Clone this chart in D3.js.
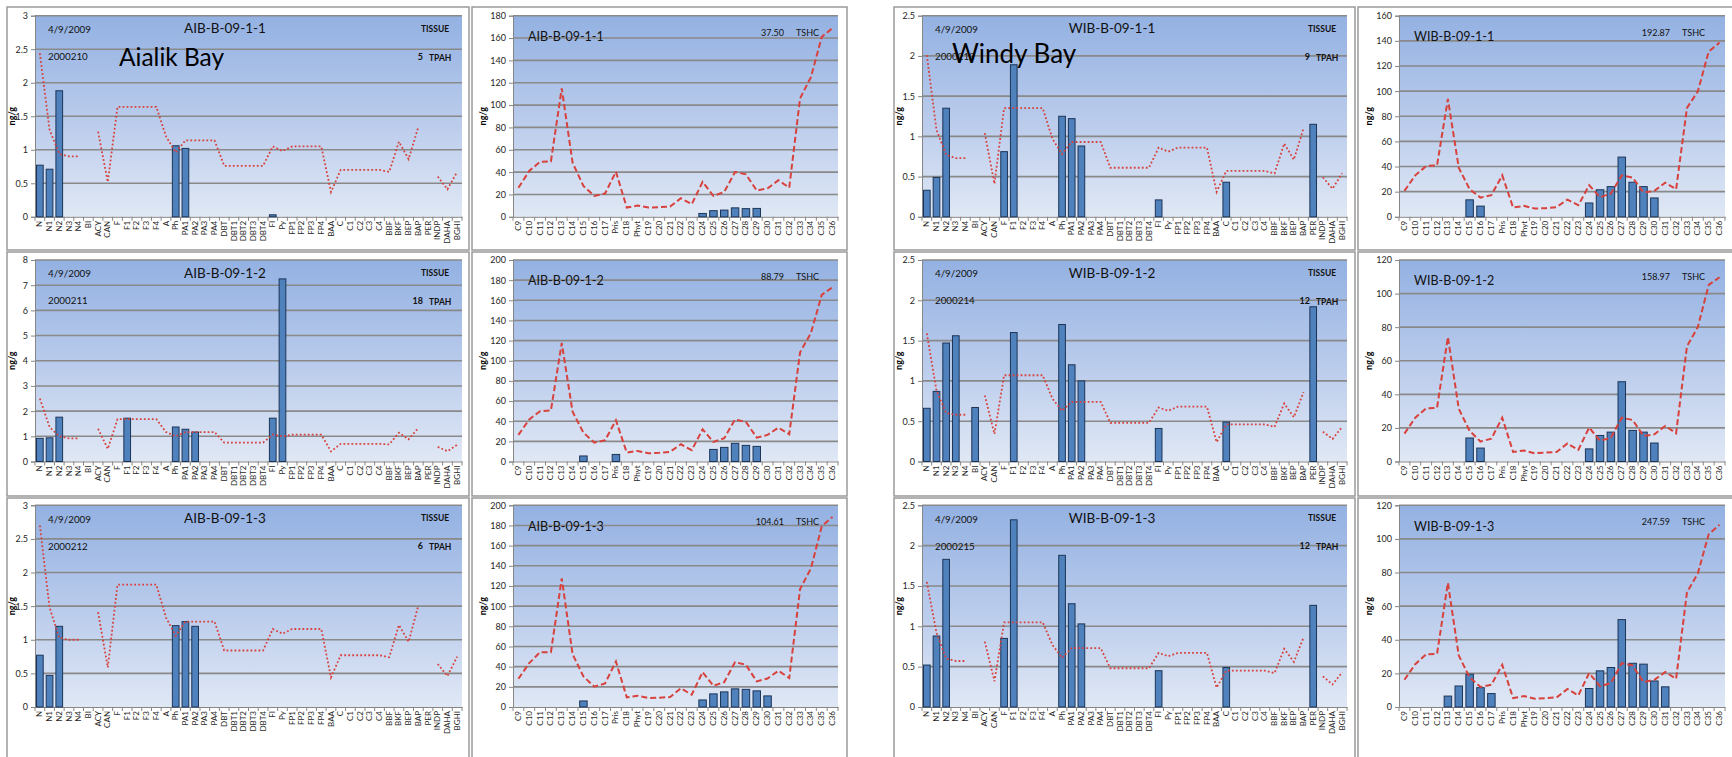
<!DOCTYPE html>
<html>
<head>
<meta charset="UTF-8">
<title>Tissue PAH / SHC profiles</title>
<script src="https://d3js.org/d3.v7.min.js"></script>
<style>
  body { margin: 0; background: #fff; font-family: Lato, 'Open Sans', sans-serif; }
  svg { display: block; }
  .axis path, .axis line { stroke: #868686; }
  .axis text { fill: #262626; font-family: Lato, sans-serif; }
</style>
</head>
<body>
<svg width="1732" height="757"></svg>
<script>
// ---- categories ----
const pahCats = ["N","N1","N2","N3","N4","BI","ACY","CAN","F","F1","F2","F3","F4","A","Ph","PA1","PA2","PA3","PA4",
  "DBT","DBT1","DBT2","DBT3","DBT4","FI","Py","FP1","FP2","FP3","FP4","BAA","C","C1","C2","C3","C4",
  "BBF","BKF","BEP","BAP","PER","INDP","DAHA","BGHI"];
const shcCats = ["C9","C10","C11","C12","C13","C14","C15","C16","C17","Pris","C18","Phyt","C19","C20","C21",
  "C22","C23","C24","C25","C26","C27","C28","C29","C30","C31","C32","C33","C34","C35","C36"];

// ---- samples (row order: AIB-1, WIB-1, AIB-2, WIB-2, AIB-3, WIB-3) ----
const sampleIds = ["AIB-B-09-1-1","WIB-B-09-1-1","AIB-B-09-1-2","WIB-B-09-1-2","AIB-B-09-1-3","WIB-B-09-1-3"];
const labNums = ["2000210","2000213","2000211","2000214","2000212","2000215"];
const tpah = ["5","9","18","12","6","12"];
const tshc = ["37.50","192.87","88.79","158.97","104.61","247.59"];
const pahMax = [3, 2.5, 8, 2.5, 3, 2.5];
const pahStep = [0.5, 0.5, 1, 0.5, 0.5, 0.5];
const shcMax = [180, 160, 200, 120, 200, 120];

// ---- PAH bars (ng/g) ----
const aib1PahBars = [0.77,0.71,1.88,0,0, 0,0,0,0,0, 0,0,0,0,1.06, 1.02,0,0,0,0, 0,0,0,0,0.03, 0,0,0,0,0, 0,0,0,0,0, 0,0,0,0,0, 0,0,0,0];
const wib1PahBars = [0.33,0.49,1.35,0,0, 0,0,0,0.81,1.89, 0,0,0,0,1.25, 1.22,0.88,0,0,0, 0,0,0,0,0.21, 0,0,0,0,0, 0,0.43,0,0,0, 0,0,0,0,0, 1.15,0,0,0];
const aib2PahBars = [0.92,0.94,1.76,0,0, 0,0,0,0,1.72, 0,0,0,0,1.37, 1.28,1.17,0,0,0, 0,0,0,0,1.72, 7.25,0,0,0,0, 0,0,0,0,0, 0,0,0,0,0, 0,0,0,0];
const wib2PahBars = [0.66,0.87,1.47,1.56,0, 0.67,0,0,0,1.6, 0,0,0,0,1.7, 1.2,1.0,0,0,0, 0,0,0,0,0.41, 0,0,0,0,0, 0,0.49,0,0,0, 0,0,0,0,0, 1.92,0,0,0];
const aib3PahBars = [0.77,0.47,1.2,0,0, 0,0,0,0,0, 0,0,0,0,1.21, 1.27,1.2,0,0,0, 0,0,0,0,0, 0,0,0,0,0, 0,0,0,0,0, 0,0,0,0,0, 0,0,0,0];
const wib3PahBars = [0.52,0.88,1.83,0,0, 0,0,0,0.85,2.32, 0,0,0,0,1.88, 1.28,1.03,0,0,0, 0,0,0,0,0.45, 0,0,0,0,0, 0,0.49,0,0,0, 0,0,0,0,0, 1.26,0,0,0];

// ---- PAH reference lines ----
const aib1PahRef = [2.44,1.3,0.94,0.9,0.9, null,1.27,0.52,1.64,1.64, 1.64,1.64,1.64,1.2,0.96, 1.14,1.14,1.14,1.14,0.76, 0.76,0.76,0.76,0.76,1.05, 0.98,1.05,1.05,1.05,1.05, 0.37,0.7,0.7,0.7,0.7, 0.7,0.67,1.12,0.86,1.34, null,0.6,0.41,0.67];
const wib1PahRef = [2.01,1.08,0.77,0.73,0.73, null,1.04,0.41,1.35,1.35, 1.35,1.35,1.35,0.97,0.78, 0.93,0.93,0.93,0.93,0.61, 0.61,0.61,0.61,0.61,0.86, 0.81,0.86,0.86,0.86,0.86, 0.31,0.57,0.57,0.57,0.57, 0.57,0.54,0.91,0.71,1.1, null,0.49,0.35,0.54];
const aib2PahRef = [2.5,1.37,1.0,0.92,0.92, null,1.3,0.5,1.68,1.68, 1.68,1.68,1.68,1.17,1.0, 1.17,1.17,1.17,1.17,0.75, 0.75,0.75,0.75,0.75,1.07, 1.0,1.07,1.07,1.07,1.07, 0.4,0.7,0.7,0.7,0.7, 0.7,0.68,1.14,0.88,1.33, null,0.58,0.41,0.66];
const wib2PahRef = [1.59,0.88,0.6,0.58,0.58, null,0.82,0.34,1.07,1.07, 1.07,1.07,1.07,0.78,0.63, 0.74,0.74,0.74,0.74,0.48, 0.48,0.48,0.48,0.48,0.67, 0.63,0.68,0.68,0.68,0.68, 0.24,0.46,0.46,0.46,0.46, 0.46,0.43,0.72,0.55,0.86, null,0.37,0.28,0.43];
const aib3PahRef = [2.7,1.48,1.03,1.0,1.0, null,1.41,0.59,1.82,1.82, 1.82,1.82,1.82,1.33,1.06, 1.27,1.27,1.27,1.27,0.84, 0.84,0.84,0.84,0.84,1.16, 1.09,1.16,1.16,1.16,1.16, 0.44,0.77,0.77,0.77,0.77, 0.77,0.74,1.22,0.97,1.51, null,0.64,0.46,0.75];
const wib3PahRef = [1.55,0.92,0.6,0.57,0.57, null,0.81,0.32,1.05,1.05, 1.05,1.05,1.05,0.77,0.61, 0.73,0.73,0.73,0.73,0.48, 0.48,0.48,0.48,0.48,0.67, 0.63,0.67,0.67,0.67,0.67, 0.24,0.45,0.45,0.45,0.45, 0.45,0.42,0.72,0.56,0.86, null,0.38,0.28,0.43];

// ---- SHC bars (ng/g) ----
const aib1ShcBars = [0,0,0,0,0, 0,0,0,0,0, 0,0,0,0,0, 0,0,3,5.5,6, 8,7.3,7.5,0,0, 0,0,0,0,0];
const wib1ShcBars = [0,0,0,0,0, 0,13.5,8.5,0,0, 0,0,0,0,0, 0,0,11,21.5,24, 47.5,27.5,24,15,0, 0,0,0,0,0];
const aib2ShcBars = [0,0,0,0,0, 0,5.5,0,0,7, 0,0,0,0,0, 0,0,0,12,14, 18,16,15,0,0, 0,0,0,0,0];
const wib2ShcBars = [0,0,0,0,0, 0,14,8,0,0, 0,0,0,0,0, 0,0,7.5,15.5,17.5, 47.5,18.5,17.5,11,0, 0,0,0,0,0];
const aib3ShcBars = [0,0,0,0,0, 0,6,0,0,0, 0,0,0,0,0, 0,0,7,13,15, 18,17.5,16,11,0, 0,0,0,0,0];
const wib3ShcBars = [0,0,0,0,6.5, 12.5,19.5,11.5,8,0, 0,0,0,0,0, 0,0,11,21.5,23.5, 52,26,25.5,15.5,12, 0,0,0,0,0];

// ---- SHC reference lines ----
const aib1ShcRef = [26,41,49.3,49.6,115,48.4,27.6,18.7,20.8,40.4,8.3,10,8.3,8.6,9.2,16.6,11.3,31.2,18.7,22.3,40.1,38,23.5,25.5,32.7,26.1,106,125,161,169];
const wib1ShcRef = [20.6,33,40.4,40.9,93.7,39,21.9,15.3,17.2,33,7.4,8.7,6.6,6.9,7.7,13.7,9.2,25.1,15.6,18.5,33,31.2,19.3,20.6,27.2,21.9,86.6,99.8,131.5,138.6];
const aib2ShcRef = [26.4,41.8,50,50.7,117.6,49.4,28.7,18.8,21.1,40.9,8.9,10.5,8.2,8.6,9.6,17.1,11.2,32,19.4,23.1,41.8,39.2,23.7,26.4,33.6,27,108.4,127.5,165.4,173];
const wib2ShcRef = [16.6,26.1,31.7,32,74.1,31.4,18.2,11.9,13.6,26.1,5.7,6.5,4.9,5.3,5.7,10.7,6.9,20.2,12.3,14.2,26.1,24.7,15.2,16.2,21.2,16.8,68.6,80.1,105.2,109.7];
const aib3ShcRef = [28,43.5,54.4,54.4,127.5,52.4,30.3,20.1,23.4,45.1,9.6,11.2,8.9,9.2,9.9,18.5,12.2,34.6,21.1,24.7,44.5,41.8,25.4,28.3,35.9,28.7,117,137.4,179.2,188.5];
const wib3ShcRef = [16.2,25.5,31.4,31.6,73.9,30.6,17.6,11.9,13.2,25.1,5.3,6.5,4.9,5.3,5.7,10.7,6.9,20.2,12.3,14.2,26.1,24.7,14.8,16.2,20.8,16.8,68.2,79.5,102.8,108.5];

const pahBars = [aib1PahBars, wib1PahBars, aib2PahBars, wib2PahBars, aib3PahBars, wib3PahBars];
const pahRefs = [aib1PahRef, wib1PahRef, aib2PahRef, wib2PahRef, aib3PahRef, wib3PahRef];
const shcBars = [aib1ShcBars, wib1ShcBars, aib2ShcBars, wib2ShcBars, aib3ShcBars, wib3ShcBars];
const shcRefs = [aib1ShcRef, wib1ShcRef, aib2ShcRef, wib2ShcRef, aib3ShcRef, wib3ShcRef];

// ---- layout ----
const cols = [
  { box: [7, 469],     plot: [35, 462] },
  { box: [472, 847],   plot: [513, 838] },
  { box: [894, 1355],  plot: [922, 1347] },
  { box: [1358, 1745], plot: [1399, 1725] }
];
const rows = [
  { box: [7, 250],   plot: [15.7, 216.8] },
  { box: [252, 496], plot: [260, 461.5] },
  { box: [498, 775], plot: [505.3, 707] }
];

const svg = d3.select("svg");
const defs = svg.append("defs");
const grad = defs.append("linearGradient").attr("id", "plotbg")
  .attr("x1", 0).attr("y1", 0).attr("x2", 0).attr("y2", 1);
grad.append("stop").attr("offset", "0%").attr("stop-color", "#93b1e2");
grad.append("stop").attr("offset", "55%").attr("stop-color", "#bccdec");
grad.append("stop").attr("offset", "100%").attr("stop-color", "#e0e8f5");

function drawPanel(opt) {
  const c = cols[opt.col], r = rows[opt.row];
  const L = c.plot[0], R = c.plot[1], T = r.plot[0], B = r.plot[1];
  const g = svg.append("g");

  g.append("rect")
    .attr("x", c.box[0]).attr("y", r.box[0])
    .attr("width", c.box[1] - c.box[0]).attr("height", r.box[1] - r.box[0])
    .attr("fill", "#fff").attr("stroke", "#9a9a9a").attr("stroke-width", 1.5);

  g.append("rect").attr("x", L).attr("y", T).attr("width", R - L).attr("height", B - T)
    .attr("fill", "url(#plotbg)");

  const x = d3.scaleBand().domain(opt.cats).range([L, R]).paddingInner(0.31).paddingOuter(0.155);
  const y = d3.scaleLinear().domain([0, opt.yMax]).range([B, T]);
  const ticks = d3.range(0, opt.yMax + opt.yStep / 2, opt.yStep);

  // gridlines
  g.selectAll(".grid").data(ticks.filter(t => t > 0)).enter().append("line")
    .attr("x1", L).attr("x2", R).attr("y1", d => y(d)).attr("y2", d => y(d))
    .attr("stroke", "#898989").attr("stroke-width", 1.6);

  // y axis
  const ya = g.append("g").attr("class", "axis").attr("transform", `translate(${L},0)`)
    .call(d3.axisLeft(y).tickValues(ticks).tickSize(4).tickPadding(3).tickFormat(d3.format("~g")));
  ya.selectAll("text").style("font-size", "9px");

  // x axis
  const xa = g.append("g").attr("class", "axis").attr("transform", `translate(0,${B})`)
    .call(d3.axisBottom(x).tickSize(0).tickSizeOuter(0));
  xa.selectAll("text")
    .attr("transform", "rotate(-90)")
    .attr("x", -4).attr("y", 0).attr("dy", "0.32em")
    .style("text-anchor", "end").style("font-size", "8px");
  const step = x.step();
  g.selectAll(".xt").data(d3.range(opt.cats.length + 1)).enter().append("line")
    .attr("x1", i => L + i * step).attr("x2", i => L + i * step)
    .attr("y1", B).attr("y2", B + 4).attr("stroke", "#868686");

  // bars
  const pts = opt.cats.map((k, i) => ({ k, bar: opt.bars[i], ref: opt.ref[i] }));
  g.selectAll(".bar").data(pts.filter(d => d.bar > 0)).enter().append("rect")
    .attr("x", d => x(d.k)).attr("width", x.bandwidth())
    .attr("y", d => y(d.bar)).attr("height", d => B - y(d.bar))
    .attr("fill", "#4f81bd").attr("stroke", "#1c3557").attr("stroke-width", 1);

  // reference line
  const line = d3.line().defined(d => d.ref != null)
    .x(d => x(d.k) + x.bandwidth() / 2).y(d => y(d.ref));
  g.append("path").datum(pts).attr("d", line)
    .attr("fill", "none").attr("stroke", "#d8423d")
    .attr("stroke-width", opt.kind === "pah" ? 1.8 : 2)
    .attr("stroke-dasharray", opt.kind === "pah" ? "1.8,2.2" : "6,3");

  // y title
  g.append("text").attr("transform", `translate(${L + opt.yLabelDx},${(T + B) / 2}) rotate(-90)`)
    .attr("text-anchor", "middle").style("font-size", "9px").style("font-weight", "bold")
    .text("ng/g");

  return { g, L, T };
}

function txt(g, x, y, s, size, opts) {
  opts = opts || {};
  return g.append("text").attr("x", x).attr("y", y).attr("dy", "0.35em")
    .attr("text-anchor", opts.anchor || "start")
    .style("font-size", size + "px").style("font-weight", opts.bold ? "bold" : "normal")
    .attr("fill", "#111").text(s);
}

sampleIds.forEach((id, s) => {
  const row = Math.floor(s / 2), site = s % 2;

  const p = drawPanel({ kind: "pah", row, col: site * 2, cats: pahCats,
    bars: pahBars[s], ref: pahRefs[s], yMax: pahMax[s], yStep: pahStep[s], yLabelDx: -20 });
  txt(p.g, p.L + 13, p.T + 14, "4/9/2009", 9.8);
  txt(p.g, p.L + 190, p.T + 13, id, 13.5, { anchor: "middle" });
  txt(p.g, p.L + 386, p.T + 13, "TISSUE", 8.5, { bold: true });
  txt(p.g, p.L + 13, p.T + 41, labNums[s], 9.8);
  txt(p.g, p.L + 388, p.T + 41, tpah[s], 9, { anchor: "end", bold: true });
  txt(p.g, p.L + 394, p.T + 42, "TPAH", 8.5, { bold: true });

  const q = drawPanel({ kind: "shc", row, col: site * 2 + 1, cats: shcCats,
    bars: shcBars[s], ref: shcRefs[s], yMax: shcMax[s], yStep: 20, yLabelDx: -27 });
  txt(q.g, q.L + 15, q.T + 21, id, 12.5);
  txt(q.g, q.L + 271, q.T + 17, tshc[s], 9, { anchor: "end" });
  txt(q.g, q.L + 283, q.T + 17, "TSHC", 9);
});

// site labels over the first row
svg.append("text").attr("x", 119).attr("y", 65.5).style("font-size", "24.5px").attr("fill", "#000").text("Aialik Bay");
svg.append("text").attr("x", 952).attr("y", 63).style("font-size", "26px").attr("fill", "#000").text("Windy Bay");
</script>
</body>
</html>
